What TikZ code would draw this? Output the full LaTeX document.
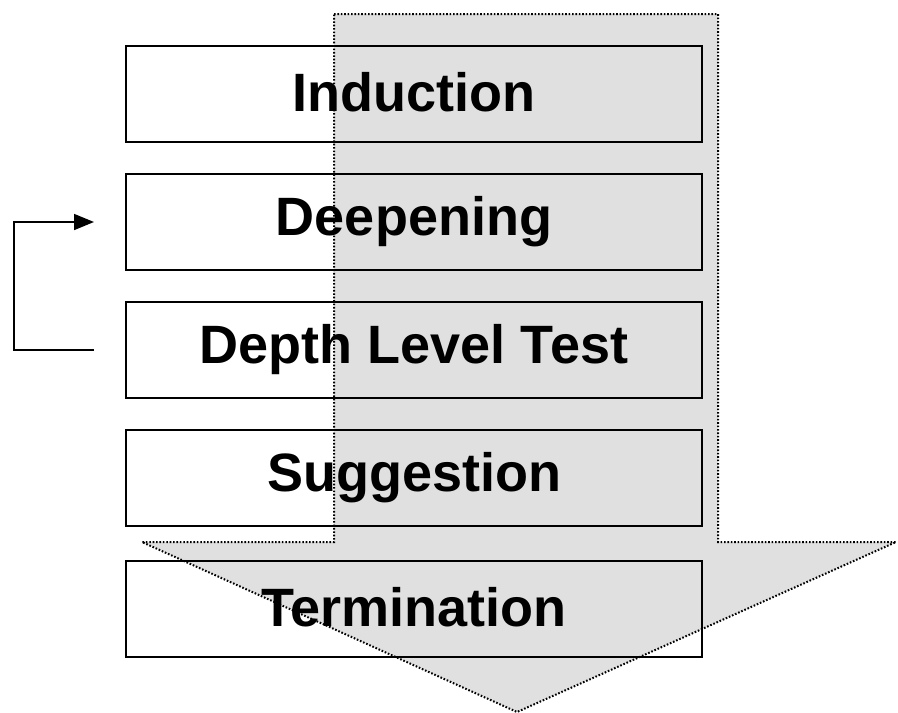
\documentclass[tikz,border=0pt]{standalone}
\usepackage{fontspec}
\setmainfont{Liberation Sans}
\usetikzlibrary{arrows.meta}
\newcommand{\uptext}[1]{\raisebox{5pt}{#1}}
\begin{document}
\begin{tikzpicture}[x=1pt,y=-1pt,
  stage/.style={draw=black,line width=2pt,minimum width=576pt,minimum height=96pt,inner sep=0pt,font=\fontsize{54}{60}\selectfont\bfseries},
  flow/.style={fill=black!12,draw=black,line width=2pt,dash pattern=on 1.6pt off 1.8pt},
  loopline/.style={draw=black,line width=1.6pt}]
\useasboundingbox (0,0) rectangle (898,713);
\path[flow] (334,14) -- (718,14) -- (718,542) -- (896,542) -- (517,712) -- (142,542) -- (334,542) -- cycle;
\node[stage] (ind) at (414,94) {\uptext{Induction}};
\node[stage] (dee) at (414,222) {\uptext{Deepening}};
\node[stage] (dlt) at (414,350) {\uptext{Depth Level Test}};
\node[stage] (sug) at (414,478) {\uptext{Suggestion}};
\node[stage] (ter) at (414,609) {\uptext{Termination}};
\coordinate (s) at ([xshift=-31pt]dlt.west);
\coordinate (e) at ([xshift=-31pt]dee.west);
\draw[loopline,-{Triangle[length=20pt,width=16pt]}] (s) -- (14,350) -- (14,222) -- (e);
\end{tikzpicture}
\end{document}
